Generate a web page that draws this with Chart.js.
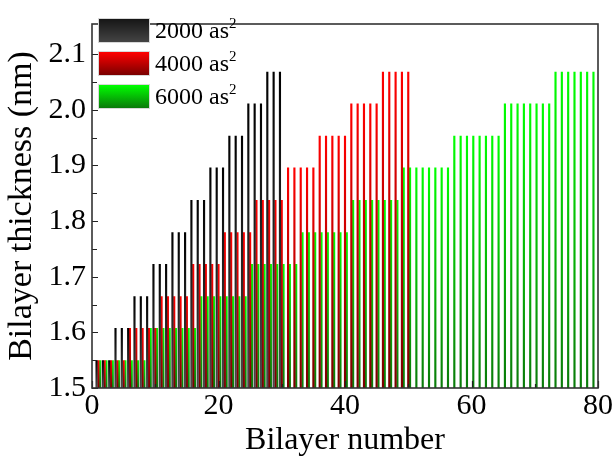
<!DOCTYPE html>
<html><head><meta charset="utf-8">
<script src="https://cdn.jsdelivr.net/npm/chart.js@4.4.0/dist/chart.umd.min.js"></script>
<style>
html,body{margin:0;padding:0;background:#fff;}
#wrap{position:relative;width:615px;height:458px;}
#legend{position:absolute;left:98px;top:14px;font-family:"Liberation Serif",serif;font-size:24px;color:#000;}
.row{display:flex;align-items:center;height:33px;white-space:nowrap;}
.sw{width:52px;height:25px;margin-right:5px;box-sizing:border-box;border:1px solid #d8d8d8;}
sup{font-size:15px;vertical-align:10px;line-height:0;}
</style></head>
<body><div id="wrap"><canvas id="c" width="615" height="458"></canvas>
<div id="legend"></div></div>
<script>
const bilayerNumbers = [1,2,3,4,5,6,7,8,9,10,11,12,13,14,15,16,17,18,19,20,21,22,23,24,25,26,27,28,29,30,31,32,33,34,35,36,37,38,39,40,41,42,43,44,45,46,47,48,49,50,51,52,53,54,55,56,57,58,59,60,61,62,63,64,65,66,67,68,69,70,71,72,73,74,75,76,77,78,79,80];

const seriesNames = ["2000 as", "4000 as", "6000 as"];

const thickness2000 = [1.550,1.550,1.550, 1.608,1.608,1.608, 1.665,1.665,1.665, 1.723,1.723,1.723, 1.780,1.780,1.780,
  1.838,1.838,1.838, 1.896,1.896,1.896, 1.953,1.953,1.953, 2.011,2.011,2.011, 2.068,2.068,2.068];

const thickness4000 = [1.550,1.550,1.550,1.550,1.550, 1.608,1.608,1.608,1.608,1.608, 1.665,1.665,1.665,1.665,1.665,
  1.723,1.723,1.723,1.723,1.723, 1.780,1.780,1.780,1.780,1.780, 1.838,1.838,1.838,1.838,1.838,
  1.896,1.896,1.896,1.896,1.896, 1.953,1.953,1.953,1.953,1.953, 2.011,2.011,2.011,2.011,2.011,
  2.068,2.068,2.068,2.068,2.068];

const thickness6000 = [1.550,1.550,1.550,1.550,1.550,1.550,1.550,1.550,
  1.608,1.608,1.608,1.608,1.608,1.608,1.608,1.608,
  1.665,1.665,1.665,1.665,1.665,1.665,1.665,1.665,
  1.723,1.723,1.723,1.723,1.723,1.723,1.723,1.723,
  1.780,1.780,1.780,1.780,1.780,1.780,1.780,1.780,
  1.838,1.838,1.838,1.838,1.838,1.838,1.838,1.838,
  1.896,1.896,1.896,1.896,1.896,1.896,1.896,1.896,
  1.953,1.953,1.953,1.953,1.953,1.953,1.953,1.953,
  2.011,2.011,2.011,2.011,2.011,2.011,2.011,2.011,
  2.068,2.068,2.068,2.068,2.068,2.068,2.068,2.068];

const yTickValues = [1.5,1.6,1.7,1.8,1.9,2.0,2.1];
const yMinorValues = [1.55,1.65,1.75,1.85,1.95,2.05];
const xTickValues = [0,20,40,60,80];
const xMinorValues = [10,30,50,70];

const colorsTop = ["#000000", "#ff0000", "#00ff00"];
const colorsBottom = ["#4a4a4a", "#7a0000", "#0a7a0a"];

function barGrad(top, bottom){
  return (ctx) => {
    const chart = ctx.chart;
    if (!chart.chartArea || ctx.type !== 'data' || !ctx.parsed) return bottom;
    const ys = chart.scales.y;
    const yTop = ys.getPixelForValue(ctx.parsed.y);
    const yBot = ys.getPixelForValue(ys.min);
    if (!isFinite(yTop) || !isFinite(yBot) || yBot - yTop < 1) return bottom;
    const g = chart.ctx.createLinearGradient(0, yTop, 0, yBot);
    g.addColorStop(0, top);
    g.addColorStop(1, bottom);
    return g;
  };
}

function toPoints(vals){ return vals.map((v,i)=>({x: bilayerNumbers[i], y: v})); }

const allSeries = [thickness2000, thickness4000, thickness6000];

const datasets = allSeries.map((vals, k) => ({
  label: seriesNames[k] + "²",
  data: toPoints(vals),
  backgroundColor: barGrad(colorsTop[k], colorsBottom[k]),
  borderWidth: 0,
  categoryPercentage: 0.85,
  barPercentage: 1.2
}));

// HTML legend
const legendEl = document.getElementById('legend');
seriesNames.forEach((n,k)=>{
  const row = document.createElement('div'); row.className='row';
  const sw = document.createElement('div'); sw.className='sw';
  sw.style.background = k===0 ? 'linear-gradient(to bottom,#161616,#444444)' : `linear-gradient(to bottom, ${colorsTop[k]}, ${colorsBottom[k]})`;
  const t = document.createElement('span'); t.innerHTML = n + '<sup>2</sup>';
  row.appendChild(sw); row.appendChild(t); legendEl.appendChild(row);
});

const framePlugin = {
  id: 'frame',
  afterDatasetsDraw(chart){
    const {ctx, chartArea: a, scales: {x, y}} = chart;
    ctx.save();
    ctx.strokeStyle = '#222';
    ctx.lineWidth = 1.2;
    ctx.beginPath();
    yTickValues.forEach(v => { const p = Math.round(y.getPixelForValue(v)) + 0.5; ctx.moveTo(a.left, p); ctx.lineTo(a.left + 6, p); });
    yMinorValues.forEach(v => { const p = Math.round(y.getPixelForValue(v)) + 0.5; ctx.moveTo(a.left, p); ctx.lineTo(a.left + 5, p); });
    xTickValues.forEach(v => { const p = Math.round(x.getPixelForValue(v)) + 0.5; ctx.moveTo(p, a.bottom); ctx.lineTo(p, a.bottom - 7); });
    xMinorValues.forEach(v => { const p = Math.round(x.getPixelForValue(v)) + 0.5; ctx.moveTo(p, a.bottom); ctx.lineTo(p, a.bottom - 4); });
    ctx.stroke();
    ctx.lineWidth = 1.6;
    ctx.strokeStyle = '#333';
    ctx.strokeRect(a.left, a.top, a.right - a.left, a.bottom - a.top);
    ctx.restore();
  }
};

const serif = "'Liberation Serif', 'Times New Roman', serif";

new Chart(document.getElementById('c'), {
  type: 'bar',
  data: { datasets },
  options: {
    responsive: false,
    animation: false,
    layout: { padding: { top: 12, right: 17, left: 0, bottom: 0 } },
    plugins: { legend: { display: false }, tooltip: { enabled: false } },
    scales: {
      x: {
        type: 'linear', min: 0, max: 80, offset: false,
        grid: { display: false, drawTicks: false },
        border: { display: false },
        afterBuildTicks: s => { s.ticks = xTickValues.map(v => ({ value: v })); },
        afterFit: s => { s.height = 70; },
        ticks: { color: '#000', font: { family: serif, size: 30 }, padding: 0, maxRotation: 0, callback: v => String(v) },
        title: { display: true, text: 'Bilayer number', color: '#000', font: { family: serif, size: 32, lineHeight: 1.0 }, padding: { top: 0, bottom: 1 } }
      },
      y: {
        type: 'linear', min: 1.5, max: 2.154,
        grid: { display: false, drawTicks: false },
        border: { display: false },
        afterBuildTicks: s => { s.ticks = yTickValues.map(v => ({ value: v })); },
        afterFit: s => { s.width = 92; },
        ticks: { color: '#000', font: { family: serif, size: 30 }, padding: 6, callback: v => Number(v).toFixed(1) },
        title: { display: true, text: 'Bilayer thickness (nm)', color: '#000', font: { family: serif, size: 34, lineHeight: 1.0 }, padding: { top: 5, bottom: 0 } }
      }
    }
  },
  plugins: [framePlugin]
});
</script>
</body></html>
